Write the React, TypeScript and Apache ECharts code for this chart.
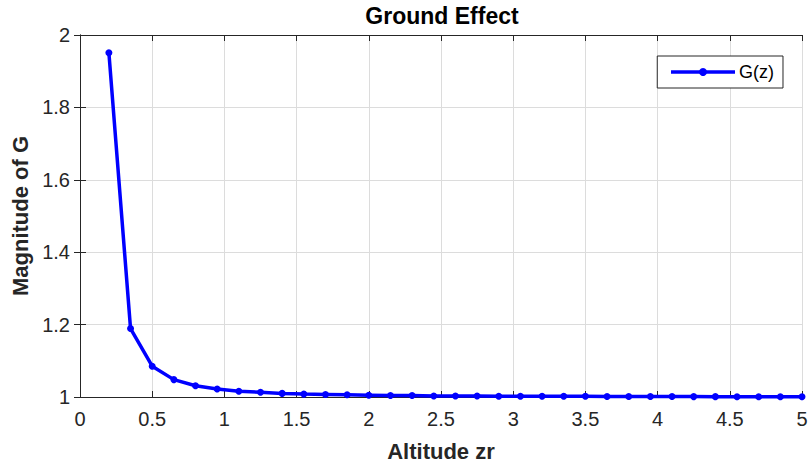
import React, { useEffect, useRef } from "react";
import * as echarts from "echarts";

const altitude = [0.2, 0.35, 0.5, 0.65, 0.8, 0.95, 1.1, 1.25, 1.4, 1.55, 1.7, 1.85, 2.0, 2.15, 2.3, 2.45, 2.6, 2.75, 2.9, 3.05, 3.2, 3.35, 3.5, 3.65, 3.8, 3.95, 4.1, 4.25, 4.4, 4.55, 4.7, 4.85, 5.0];
const gValues = [1.951, 1.189, 1.085, 1.048, 1.031, 1.022, 1.016, 1.013, 1.010, 1.008, 1.007, 1.006, 1.005, 1.004, 1.004, 1.003, 1.003, 1.003, 1.002, 1.002, 1.002, 1.002, 1.002, 1.0015, 1.0014, 1.0013, 1.0012, 1.0011, 1.001, 1.0009, 1.0009, 1.0008, 1.0008];
const seriesName = "G(z)";
const titleText = "Ground Effect";
const xLabel = "Altitude zr";
const yLabel = "Magnitude of G";

const FONT = "'Liberation Sans', Arial, Helvetica, sans-serif";

export default function App() {
  const ref = useRef<HTMLDivElement>(null);
  useEffect(() => {
    if (!ref.current) return;
    const chart = echarts.init(ref.current, null, { renderer: "svg" });
    const data = altitude.map((x, i) => [x, gValues[i]]);
    const axisCommon = {
      axisLine: { show: true, lineStyle: { color: "#262626", width: 1 } },
      axisTick: { show: true, inside: true, length: 6, lineStyle: { color: "#262626" } },
    };
    chart.setOption({
      animation: false,
      backgroundColor: "#ffffff",
      textStyle: { fontFamily: FONT },
      title: {
        text: titleText,
        left: 442,
        textAlign: "center",
        top: 4,
        padding: 0,
        textStyle: { fontFamily: FONT, fontSize: 23, fontWeight: "bold", color: "#000" },
      },
      legend: {
        data: [seriesName],
        right: 28,
        top: 56,
        orient: "vertical",
        itemWidth: 64,
        itemHeight: 10,
        itemGap: 0,
        padding: [7, 9, 7, 12],
        borderColor: "#262626",
        borderWidth: 1,
        backgroundColor: "#fff",
        lineStyle: { width: 3.5 },
        textStyle: { fontFamily: FONT, fontSize: 18, color: "#000", padding: [0, 0, 0, -1] },
      },
      grid: { left: 80, right: 9, top: 35, bottom: 72, containLabel: false },
      xAxis: [
        {
          type: "value",
          min: 0,
          max: 5,
          interval: 0.5,
          name: xLabel,
          nameLocation: "middle",
          nameGap: 43,
          nameTextStyle: { fontFamily: FONT, fontSize: 22, fontWeight: "bold", color: "#262626" },
          ...axisCommon,
          axisLabel: { fontFamily: FONT, fontSize: 20, color: "#262626", margin: 12 },
          splitLine: { show: true, lineStyle: { color: "#dcdcdc", width: 1 } },
        },
        {
          type: "value",
          position: "top",
          min: 0,
          max: 5,
          interval: 0.5,
          ...axisCommon,
          axisLabel: { show: false },
          splitLine: { show: false },
        },
      ],
      yAxis: [
        {
          type: "value",
          min: 1,
          max: 2,
          interval: 0.2,
          name: yLabel,
          nameLocation: "middle",
          nameGap: 44,
          nameTextStyle: { fontFamily: FONT, fontSize: 22, fontWeight: "bold", color: "#262626" },
          ...axisCommon,
          axisLabel: { fontFamily: FONT, fontSize: 20, color: "#262626", margin: 10 },
          splitLine: { show: true, lineStyle: { color: "#dcdcdc", width: 1 } },
        },
        {
          type: "value",
          position: "right",
          min: 1,
          max: 2,
          interval: 0.2,
          ...axisCommon,
          axisLabel: { show: false },
          splitLine: { show: false },
        },
      ],
      series: [
        {
          name: seriesName,
          type: "line",
          data,
          xAxisIndex: 0,
          yAxisIndex: 0,
          symbol: "circle",
          symbolSize: 7,
          showSymbol: true,
          lineStyle: { color: "#0000ff", width: 3.5 },
          itemStyle: { color: "#0000ff" },
          clip: false,
        },
      ],
    });
    return () => chart.dispose();
  }, []);
  return (
    <div
      ref={ref}
      style={{ position: "fixed", left: 0, top: 0, width: 811, height: 469, background: "#fff" }}
    />
  );
}
